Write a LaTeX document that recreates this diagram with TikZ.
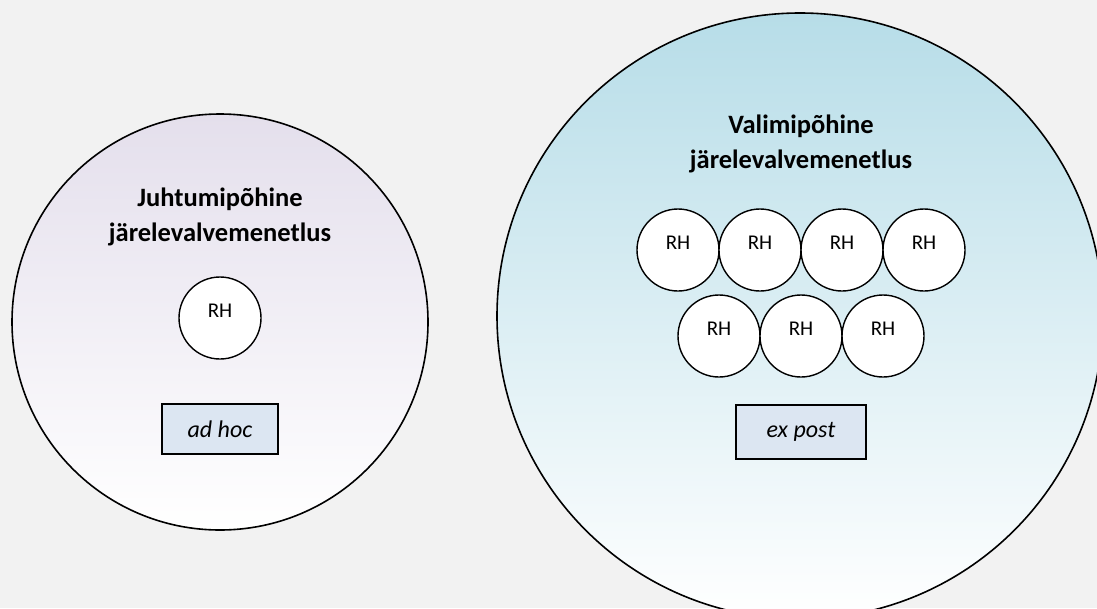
\documentclass[tikz,border=0pt]{standalone}
\usepackage{fontspec}
\setmainfont{Carlito}
\usepackage{xcolor}
\usepackage{tikz}
\usetikzlibrary{positioning}
\definecolor{PageGray}{HTML}{F2F2F2}
\definecolor{CaseLilac}{HTML}{E4DFEC}
\definecolor{SampleBlue}{HTML}{B7DDE8}
\definecolor{TagBg}{HTML}{DCE6F2}

\begin{document}
\begin{tikzpicture}[x=1pt, y=-1pt,
    area/.style={circle, draw, line width=1.6pt, inner sep=0pt, bottom color=white},
    rhcircle/.style={circle, draw, line width=1.4pt, fill=white, inner sep=0pt,
                     minimum size=82pt, text depth=14pt, font=\fontsize{21}{25}\selectfont},
    title/.style={align=center, font=\fontsize{26.5}{35}\selectfont\bfseries},
    tag/.style={draw, line width=1.4pt, fill=TagBg, inner sep=0pt,
                font=\fontsize{24}{28}\selectfont\itshape}]
      % page
      \useasboundingbox (0,0) rectangle (1097,608);
      \clip (0,0) rectangle (1097,608);
      \fill[PageGray] (0,0) rectangle (1097,608);

      % left: case based
      \node[area, top color=CaseLilac, minimum size=416pt] (caseArea) at (220,322) {};
      \node[title] (caseTitle) at (220,217) {Juhtumipõhine\\järelevalvemenetlus};
      \node[rhcircle] (caseRH) at (220,318) {RH};
      \node[tag, minimum width=116pt, minimum height=50pt] (adhoc) at (220,429) {ad hoc};

      % right: sample based
      \node[area, top color=SampleBlue, minimum size=606pt] (sampleArea) at (800,316) {};
      \node[title] (sampleTitle) at (801,144) {Valimipõhine\\järelevalvemenetlus};
      \foreach \i/\x in {1/678, 2/760, 3/842, 4/924}
        \node[rhcircle] (rhTop\i) at (\x,250) {RH};
      \foreach \i/\x in {1/719, 2/801, 3/883}
        \node[rhcircle] (rhLow\i) at (\x,336) {RH};
      \node[tag, minimum width=130pt, minimum height=54pt] (expost) at (801,432) {ex post};
    \end{tikzpicture}
\end{document}
